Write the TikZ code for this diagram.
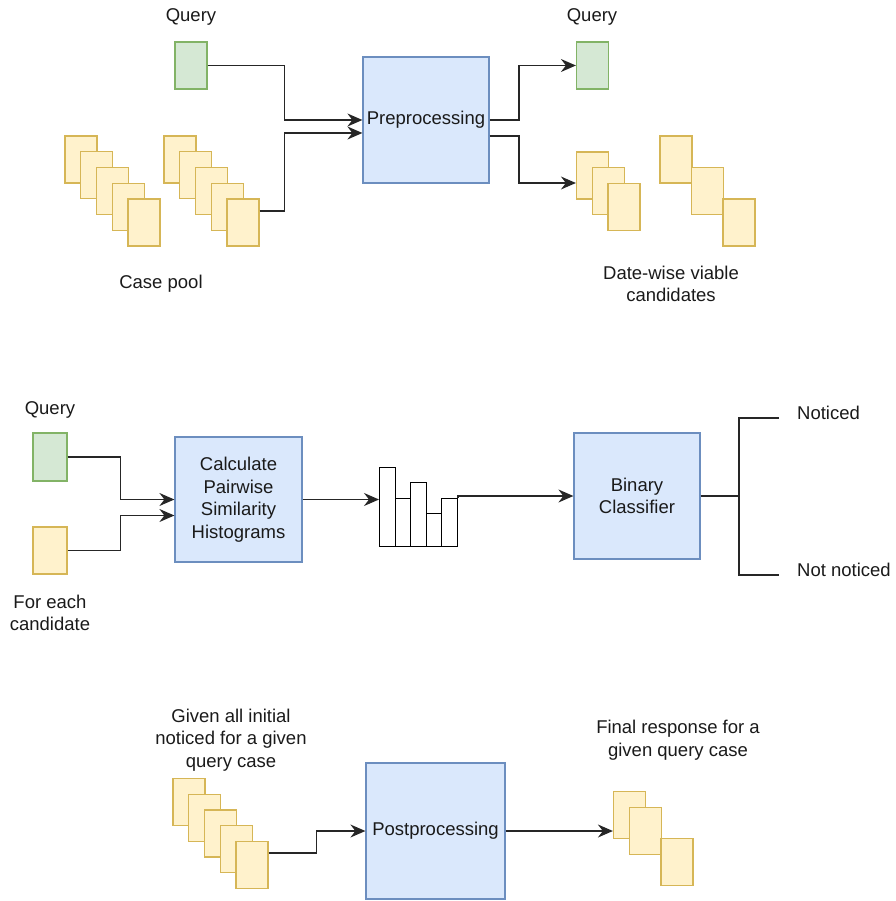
\documentclass[tikz,border=0pt]{standalone}
\usepackage{fontspec}
\setmainfont{Liberation Sans}
\usetikzlibrary{arrows.meta}
\definecolor{gfill}{HTML}{D5E8D4}\definecolor{gdraw}{HTML}{82B366}
\definecolor{yfill}{HTML}{FFF2CC}\definecolor{ydraw}{HTML}{D6B656}
\definecolor{bfill}{HTML}{DAE8FC}\definecolor{bdraw}{HTML}{6C8EBF}
\definecolor{txt}{HTML}{1A1A1A}
\tikzset{
  lbl/.style={font=\fontsize{18.5}{22.5}\selectfont, text=txt, align=center, inner sep=0pt},
  qcard/.style={draw=gdraw, fill=gfill, line width=1.2pt, minimum width=32pt, minimum height=47pt, inner sep=0pt},
  ycard/.style={draw=ydraw, fill=yfill, line width=1.2pt, minimum width=32pt, minimum height=47pt, inner sep=0pt},
  proc/.style={draw=bdraw, fill=bfill, line width=1.2pt, inner sep=0pt, font=\fontsize{18.5}{22.5}\selectfont, text=txt, align=center},
  bar/.style={draw=black, fill=white, line width=1.3pt, minimum width=15.5pt, inner sep=0pt, anchor=south west},
  conn/.style={draw=black!85, line width=1.4pt},
  arr/.style={conn, -{Stealth[length=15pt,width=13pt,inset=5pt]}}
}
\begin{document}
\begin{tikzpicture}[x=1pt,y=-1pt]
\useasboundingbox (0,0) rectangle (895,901);
% ---------- top section ----------
\node[lbl] (qt1) at (191,17) {Query};
\node[qcard] (q1) at (191,65.5) {};
\foreach \i in {0,...,4}{
  \node[ycard] (a\i) at ({81+15.75*\i},{159.5+15.75*\i}) {};
}
\foreach \i in {0,...,4}{
  \node[ycard] (b\i) at ({180+15.75*\i},{159.5+15.75*\i}) {};
}
\node[lbl] (pool) at (161,284) {Case pool};
\node[proc, minimum width=126pt, minimum height=126pt] (pre) at (426,120) {Preprocessing};
\draw[arr] (q1.east) -| ([xshift=-78pt]pre.west) -- (pre.west);
\draw[arr] ([yshift=11.5pt]b4.east) -| ([xshift=-78pt,yshift=-13pt]pre.west) -- ([yshift=-13pt]pre.west);

\node[lbl] (qt2) at (592,17) {Query};
\node[qcard] (q2) at (592.5,65.5) {};
\foreach \i in {0,...,2}{
  \node[ycard] (c\i) at ({592.5+15.75*\i},{175.5+15.75*\i}) {};
}
\node[ycard] (d0) at (676,159.5) {};
\node[ycard] (d1) at (707.5,191) {};
\node[ycard] (d2) at (739,222.5) {};
\node[lbl] (dw) at (671,284) {Date-wise viable\\candidates};
\draw[arr] (pre.east) -| ([xshift=-57pt]q2.west) -- (q2.west);
\draw[arr] ([yshift=-16pt]pre.east) -| ([xshift=-57pt,yshift=-7.5pt]c0.west) -- ([yshift=-7.5pt]c0.west);

% ---------- middle section ----------
\node[lbl] (qt3) at (50,410) {Query};
\node[qcard, minimum width=34pt, minimum height=48pt] (q3) at (50,457) {};
\node[ycard, minimum width=34pt, minimum height=47pt] (cand) at (50,550.5) {};
\node[lbl] (fe) at (50,613) {For each\\candidate};
\node[proc, minimum width=127pt, minimum height=125pt] (calc) at (238.5,499.5) {Calculate\\Pairwise\\Similarity\\Histograms};
\draw[arr] (q3.east) -| ([xshift=-54pt]calc.west) -- (calc.west);
\draw[arr] (cand.east) -| ([xshift=-54pt,yshift=-16pt]calc.west) -- ([yshift=-16pt]calc.west);

\node[bar, minimum height=79pt] (h1) at (379,547) {};
\node[bar, minimum height=48pt] (h2) at (394.5,547) {};
\node[bar, minimum height=64pt] (h3) at (410,547) {};
\node[bar, minimum height=33pt] (h4) at (425.5,547) {};
\node[bar, minimum height=48pt] (h5) at (441,547) {};
\draw[arr] (calc.east) -- (calc.east -| h1.west);

\node[proc, minimum width=126pt, minimum height=126pt] (bin) at (637,496) {Binary\\Classifier};
\draw[arr] (h5.north east) |- (bin.west);

\coordinate (fork) at (739,496);
\coordinate (yes) at (779,418);
\coordinate (no) at (779,575);
\draw[conn] (bin.east) -- (fork);
\draw[conn] (yes) -| (fork) |- (no);
\node[lbl, anchor=west] (nt) at (797,413) {Noticed};
\node[lbl, anchor=west] (nn) at (797,570) {Not noticed};

% ---------- bottom section ----------
\node[lbl] (given) at (231,740) {Given all initial\\noticed for a given\\query case};
\foreach \i in {0,...,4}{
  \node[ycard] (e\i) at ({189+15.75*\i},{802+15.75*\i}) {};
}
\node[proc, minimum width=139pt, minimum height=136pt] (post) at (435.5,831) {Postprocessing};
\draw[arr] ([yshift=12pt]e4.east) -| ([xshift=-49pt]post.west) -- (post.west);

\node[ycard] (f0) at (629.5,815) {};
\node[ycard] (f1) at (645.5,831) {};
\node[ycard] (f2) at (677,862) {};
\node[lbl] (fin) at (678,740) {Final response for a\\given query case};
\draw[arr] (post.east) -- (post.east -| f0.west);
\end{tikzpicture}
\end{document}
